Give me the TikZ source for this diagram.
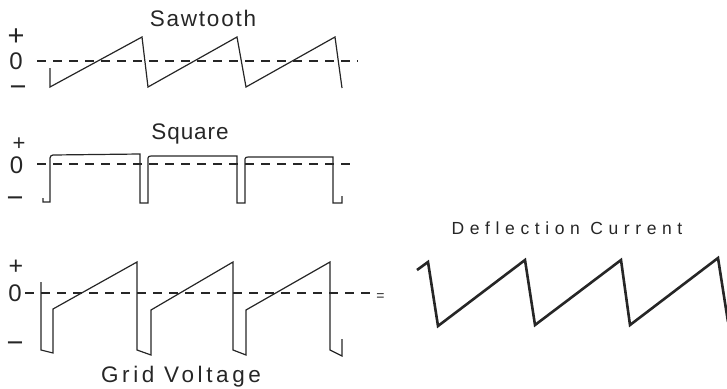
\documentclass[tikz,border=0pt]{standalone}
\usepackage{fontspec}
\setmainfont{Liberation Sans}
\newfontfamily\lblA[LetterSpace=8]{Liberation Sans}
\newfontfamily\lblB[LetterSpace=4]{Liberation Sans}
\newfontfamily\lblC[LetterSpace=16]{Liberation Sans}
\newfontfamily\lblD[LetterSpace=32]{Liberation Sans}
\definecolor{ink}{HTML}{262626}
\begin{document}
\begin{tikzpicture}[x=1pt,y=-1pt,
  wave/.style={draw=ink,line width=1.2pt,line join=miter},
  thick wave/.style={draw=ink,line width=2.6pt,line join=miter},
  zero/.style={draw=ink,line width=1.1pt,dash pattern=on 9pt off 7pt},
  axis/.style={text=ink,font=\fontsize{24}{24}\selectfont,inner sep=0pt,text height=15pt,text depth=0pt},
  sign/.style={axis,font=\fontsize{29}{29}\selectfont,text height=17pt},
  title/.style={text=ink,inner sep=0pt,anchor=base}]
\useasboundingbox (0,0) rectangle (727,388);
% ---------- Sawtooth ----------
\node[title,font=\lblA\fontsize{22.5}{22.5}\selectfont] (tsaw) at (203,26) {Sawtooth};
\node[sign] (sp) at (16,36.5) {+};
\node[axis] (s0) at (16,61.5) {0};
\node[sign] (sm) at (18,88) {−};
\draw[zero] (37,61) -- (358,61);
\draw[wave] (50,68) -- (50,87) -- (142,37) -- (148,87) -- (237,37) -- (246,87) -- (335,37) -- (342,88);
% ---------- Square ----------
\node[title,font=\lblB\fontsize{22.5}{22.5}\selectfont] (tsq) at (190,139) {Square};
\node[axis,font=\fontsize{22}{22}\selectfont,text height=11pt] (qp) at (19,144.5) {+};
\node[axis] (q0) at (16.5,165.5) {0};
\node[sign] (qm) at (15,199) {−};
\draw[zero] (37,164) -- (352,164);
\draw[wave] (43,198) -- (43,202) -- (50,202) -- (50,158) to[out=90,in=180] (53,155) -- (140,154) -- (140,203) -- (148,203) -- (148,158)
  to[out=90,in=180] (151,156) -- (237,156) -- (237,203) -- (245,203) -- (245,159) to[out=90,in=180] (248,157) -- (333,157) -- (333,203) -- (342,203) -- (342,196);
% ---------- Grid voltage ----------
\node[axis,font=\fontsize{25}{25}\selectfont,text height=14pt] (gp) at (16,267) {+};
\node[axis] (g0) at (15,294) {0};
\node[sign] (gm) at (15,344) {−};
\draw[zero] (25,293) -- (370,293);
\draw[wave] (41,282) -- (41,350) -- (53,353) -- (53,309) -- (137,262) -- (137,350) -- (151,355) -- (151,310) -- (233,262) -- (233,350) -- (246,355) -- (246,310) -- (330,262) -- (330,350) -- (342,356) -- (342,339);
\node[title,font=\lblC\fontsize{22.5}{22.5}\selectfont] (tgrid) at (181,382) {Grid Voltage};
% ---------- equals ----------
\node[text=ink,inner sep=0pt,font=\fontsize{14}{14}\selectfont] (eq) at (380.5,297) {=};
% ---------- Deflection current ----------
\node[title,font=\lblD\fontsize{17.5}{17.5}\selectfont] (tdef) at (567,234) {Deflection Current};
\draw[thick wave] (417,270) -- (428,262) -- (438,326) -- (525,260) -- (535,325) -- (621,260) -- (630,325) -- (718,258) -- (728,322);
\end{tikzpicture}
\end{document}
